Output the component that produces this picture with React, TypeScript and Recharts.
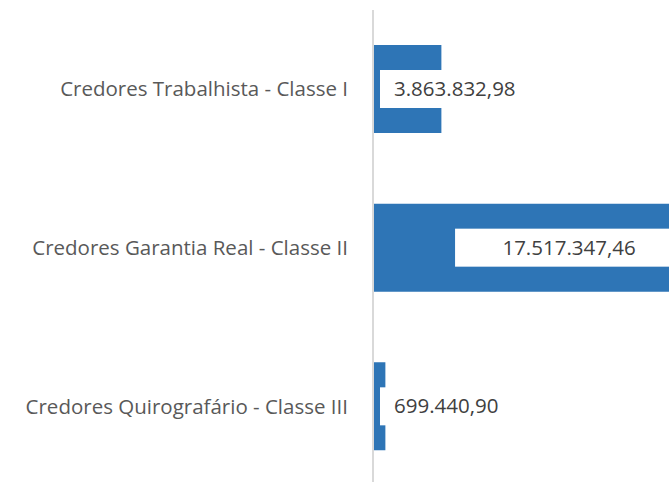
import { Bar, BarChart, XAxis, YAxis, LabelList } from "recharts";

const categories = [
    "Credores Trabalhista - Classe I",
    "Credores Garantia Real - Classe II",
    "Credores Quirografário - Classe III",
];

const values = [3863832.98, 17517347.46, 699440.9];

const valueLabels = ["3.863.832,98", "17.517.347,46", "699.440,90"];

const data = categories.map((name, i) => ({
    name,
    value: values[i],
    label: valueLabels[i],
}));

const FONT = "'Open Sans', sans-serif";

const CategoryTick = (props: any) => {
    const { x, y, payload } = props;
    return (
        <text
            x={x - 17}
            y={y}
            dy={7}
            textAnchor="end"
            fill="#595959"
            fontSize={20.5}
            fontFamily={FONT}
        >
            {payload.value}
        </text>
    );
};

const ValueLabel = (props: any) => {
    const { x, y, width, height, value } = props;
    const boxH = 38;
    const cy = y + height / 2;
    const textW = String(value).length * 10.6;
    // wide bars: label sits inside the end of the bar, otherwise next to the axis
    if (width > 250) {
        const boxW = 228;
        const bx = x + width - boxW;
        return (
            <g>
                <rect x={bx} y={cy - boxH / 2} width={boxW} height={boxH} fill="#fff" />
                <text
                    x={bx + boxW / 2}
                    y={cy}
                    dy={7}
                    textAnchor="middle"
                    fill="#404040"
                    fontSize={20.5}
                    fontFamily={FONT}
                >
                    {value}
                </text>
            </g>
        );
    }
    const bx = x + 7;
    return (
        <g>
            <rect x={bx} y={cy - boxH / 2} width={textW + 30} height={boxH} fill="#fff" />
            <text
                x={bx + 14}
                y={cy}
                dy={7}
                textAnchor="start"
                fill="#404040"
                fontSize={20.5}
                fontFamily={FONT}
            >
                {value}
            </text>
        </g>
    );
};

export default function App() {
    return (
        <div
            style={{
                position: "absolute",
                left: 0,
                top: 0,
                width: 669,
                height: 482,
                overflow: "hidden",
                background: "#fff",
            }}
        >
            <BarChart
                width={727}
                height={486}
                data={data}
                layout="vertical"
                margin={{ top: 10, right: 0, bottom: 0, left: 0 }}
                barSize={88}
            >
                <XAxis type="number" domain={[0, 20000000]} hide />
                <YAxis
                    type="category"
                    dataKey="name"
                    width={373}
                    axisLine={{ stroke: "#d9d9d9", strokeWidth: 2 }}
                    tickLine={false}
                    tick={<CategoryTick />}
                    interval={0}
                />
                <Bar dataKey="value" fill="#2e75b6" isAnimationActive={false}>
                    <LabelList dataKey="label" content={<ValueLabel />} />
                </Bar>
            </BarChart>
        </div>
    );
}
